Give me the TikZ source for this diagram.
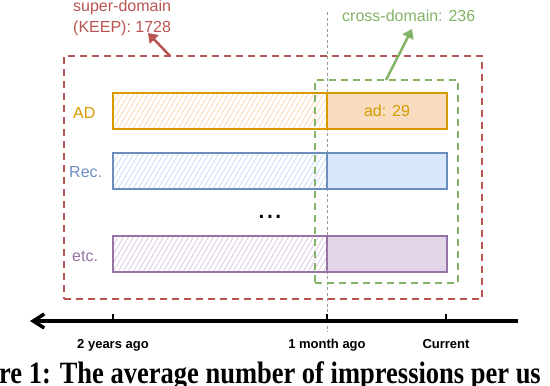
\documentclass[tikz,border=0pt]{standalone}
\usepackage{fontspec}
\setmainfont{Liberation Sans}
\newfontfamily\capfont{Liberation Serif}
\usepackage{graphicx}
\usetikzlibrary{arrows.meta}
\definecolor{redc}{HTML}{B85450}
\definecolor{greenc}{HTML}{82B366}
\definecolor{orangec}{HTML}{D79B00}
\definecolor{bluec}{HTML}{6C8EBF}
\definecolor{purplec}{HTML}{9673A6}
\definecolor{orangeF}{HTML}{F7DCC0}
\definecolor{blueF}{HTML}{DAE8FC}
\definecolor{purpleF}{HTML}{E1D5E7}
\definecolor{orangeH}{HTML}{FFD9B3}
\definecolor{blueH}{HTML}{C8DCF8}
\definecolor{purpleH}{HTML}{DACBE2}
\tikzset{
  lbl/.style={inner sep=0pt, font=\fontsize{16}{19}\selectfont},
  ticklbl/.style={inner sep=0pt, anchor=base, font=\fontsize{13}{15}\selectfont\bfseries},
  bar/.style={draw, line width=1.5pt, inner sep=0pt, outer sep=0pt, minimum height=36pt, anchor=north west},
  hatch/.style={path picture={\foreach \i in {-40,-35,...,220} \draw[#1, line width=0.8pt] ([xshift=\i pt]path picture bounding box.south west) -- ++(21pt,36pt);}},
  dashbox/.style={draw=#1, line width=2.2pt, dash pattern=on 7pt off 5pt, inner sep=0pt, outer sep=0pt, anchor=north west},
  callout/.style={draw=#1, line width=2.5pt, -{Triangle[length=9pt,width=12pt]}}
}
\begin{document}
\begin{tikzpicture}[x=1pt,y=-1pt]
\useasboundingbox (0,0) rectangle (550,386);
% super-domain box
\node[dashbox=redc, minimum width=418pt, minimum height=243pt] (super) at (64,56) {};
% 1 month ago guide
\coordinate (vtop) at (327,12);
\coordinate (vbot) at (327,332);
\draw[gray!80, line width=0.7pt, dash pattern=on 3pt off 2.5pt] (vtop) -- (vbot);
% bars
\node[bar, draw=orangec, hatch=orangeH, minimum width=214pt] (adL) at (113,93) {};
\node[bar, draw=orangec, fill=orangeF, minimum width=120pt, text=orangec, font=\fontsize{16}{19}\selectfont] (adR) at (327,93) {ad: 29};
\node[bar, draw=bluec, hatch=blueH, minimum width=214pt] (recL) at (113,153) {};
\node[bar, draw=bluec, fill=blueF, minimum width=120pt] (recR) at (327,153) {};
\node[bar, draw=purplec, hatch=purpleH, minimum width=214pt] (etcL) at (113,236) {};
\node[bar, draw=purplec, fill=purpleF, minimum width=120pt] (etcR) at (327,236) {};
% row labels
\node[lbl, text=orangec, anchor=base west] (adlab) at (73,118) {AD};
\node[lbl, text=bluec, anchor=base west] (reclab) at (69,177) {Rec.};
\node[lbl, text=purplec, anchor=base west] (etclab) at (72,261) {etc.};
\node[inner sep=0pt, anchor=base, font=\fontsize{30}{30}\selectfont] (dots) at (270,218) {...};
% cross-domain box
\node[dashbox=greenc, minimum width=143pt, minimum height=203pt] (cross) at (315,80) {};
% callouts
\node[lbl, text=redc, anchor=base west] (sd1) at (73,11.5) {super-domain};
\node[lbl, text=redc, anchor=base west] (sd2) at (73,32) {(KEEP): 1728};
\coordinate (sdTail) at (170,56);
\coordinate (sdTip) at (148,33);
\draw[callout=redc] (sdTail) -- (sdTip);
\node[lbl, text=greenc, anchor=base west] (cd) at (342,21.5) {cross-domain: 236};
\coordinate (cdTail) at (386,80);
\coordinate (cdTip) at (412,29);
\draw[callout=greenc] (cdTail) -- (cdTip);
% time axis
\coordinate (axR) at (518,321);
\coordinate (axL) at (30,321);
\draw[line width=3.5pt, -{Straight Barb[length=11pt,width=14pt]}] (axR) -- (axL);
\foreach \x in {113,327,446} \draw[line width=1.5pt] (\x,314) -- (\x,321);
\node[ticklbl] (t1) at (113,348.5) {2 years ago};
\node[ticklbl] (t2) at (327,348.5) {1 month ago};
\node[ticklbl] (t3) at (446,348.5) {Current};
% caption (cut off by the frame, as in the reference)
\node[anchor=base west, inner sep=0pt] (cap) at (-1,383) {\scalebox{0.855}[1]{\capfont\bfseries\fontsize{31}{31}\selectfont re 1: The average number of impressions per us}};
\end{tikzpicture}
\end{document}
